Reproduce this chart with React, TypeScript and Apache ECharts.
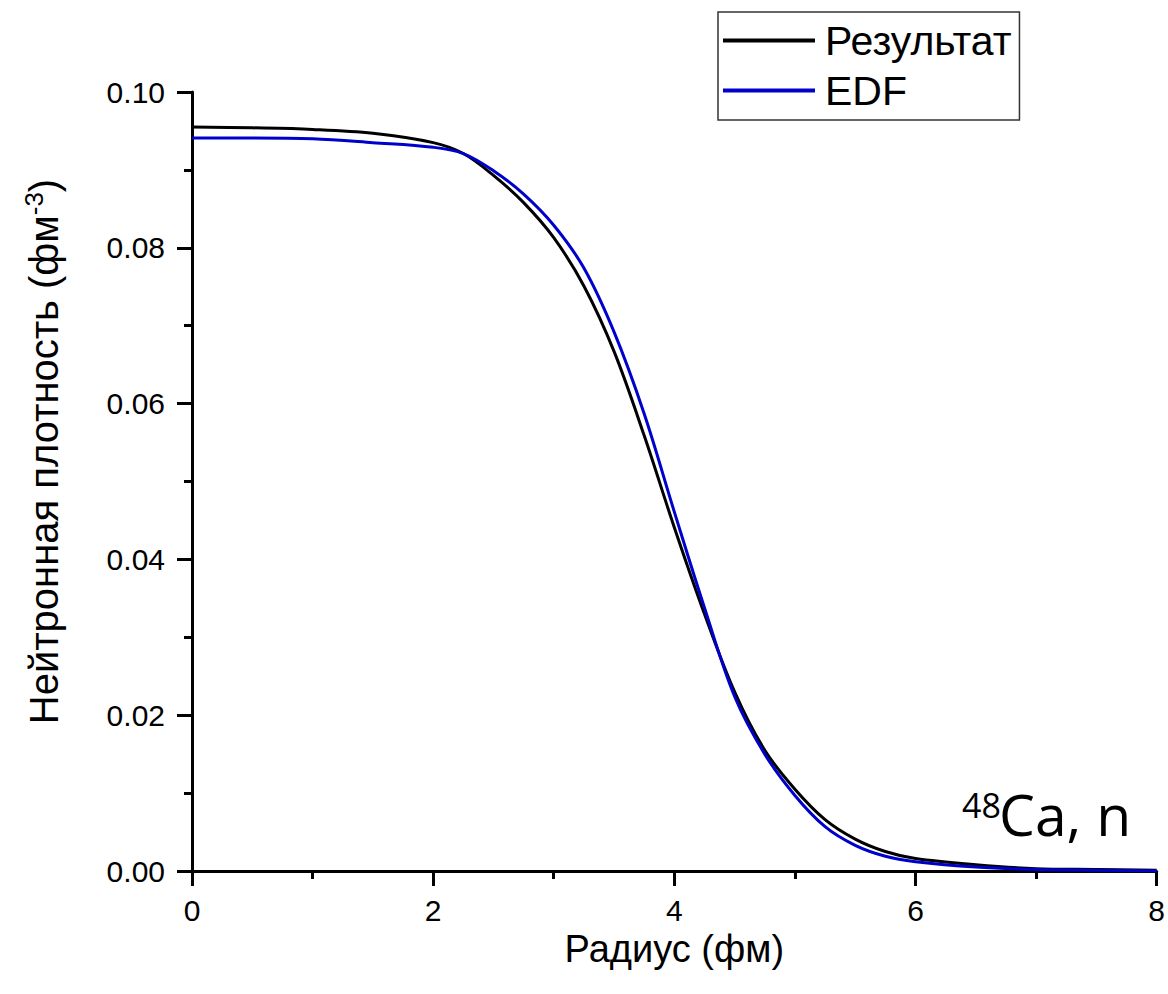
import React, { useEffect, useRef } from "react";
import * as echarts from "echarts";

// Radius grid (fm)
const radius = [0, 0.5, 1, 1.5, 2, 2.25, 2.5, 2.75, 3, 3.25, 3.5, 3.75, 4, 4.25, 4.5, 4.75, 5, 5.25, 5.5, 5.75, 6, 6.5, 7, 7.5, 8];

// Neutron density, fm^-3
const resultDensity = [0.0955, 0.0954, 0.0952, 0.0947, 0.0935, 0.0921, 0.0893, 0.0858, 0.0813, 0.0751, 0.0667, 0.0559, 0.0441, 0.033, 0.023, 0.0155, 0.0105, 0.0066, 0.0041, 0.0025, 0.0016, 0.0008, 0.0003, 0.0002, 0.0001];
const edfDensity = [0.0941, 0.0941, 0.094, 0.0935, 0.0929, 0.0921, 0.0899, 0.0869, 0.0829, 0.0774, 0.0692, 0.0587, 0.0461, 0.0338, 0.0224, 0.015, 0.0097, 0.0057, 0.0033, 0.0019, 0.0012, 0.0005, 0.0002, 0.0001, 0.0];

const seriesNames = ["Результат", "EDF"];
const seriesColors = ["#000000", "#0000cc"];
const xTitle = "Радиус (фм)";
const yTitle = "Нейтронная плотность (фм{sup|-3})";
const nucleusMass = "48";
const nucleusLabel = "Ca, n";

const FONT = "'Liberation Sans', Arial, sans-serif";

export default function App() {
  const ref = useRef<HTMLDivElement>(null);

  useEffect(() => {
    if (!ref.current) return;
    const chart = echarts.init(ref.current, undefined, { renderer: "svg" });

    const pair = (ys: number[]) => radius.map((r, i) => [r, ys[i]]);

    const axisCommon = {
      axisLine: { show: true, lineStyle: { color: "#000", width: 3 } },
      axisTick: { show: true, inside: false, length: 15, lineStyle: { color: "#000", width: 3 } },
      minorTick: { show: true, splitNumber: 2, length: 8, lineStyle: { color: "#000", width: 3 } },
      splitLine: { show: false },
      minorSplitLine: { show: false },
    };

    chart.setOption({
      animation: false,
      backgroundColor: "#fff",
      grid: { left: 192, right: 10, top: 92, bottom: 123 },
      legend: {
        orient: "vertical",
        left: 718,
        top: 12,
        padding: [8, 8, 9, 5],
        itemGap: 9,
        itemWidth: 92,
        itemHeight: 4,
        icon: "rect",
        borderColor: "#333",
        borderWidth: 1.5,
        borderRadius: 0,
        data: seriesNames,
        textStyle: {
          fontFamily: FONT,
          fontSize: 41,
          color: "#000",
          lineHeight: 40,
          padding: [0, 0, 0, 5],
        },
      },
      xAxis: {
        type: "value",
        min: 0,
        max: 8,
        interval: 2,
        ...axisCommon,
        axisLabel: { fontFamily: FONT, fontSize: 30, color: "#000", margin: 24 },
        name: xTitle,
        nameLocation: "middle",
        nameGap: 51,
        nameTextStyle: { fontFamily: FONT, fontSize: 38, color: "#000" },
      },
      yAxis: {
        type: "value",
        min: 0,
        max: 0.1,
        interval: 0.02,
        ...axisCommon,
        axisLabel: {
          fontFamily: FONT,
          fontSize: 30,
          color: "#000",
          margin: 27,
          formatter: (v: number) => v.toFixed(2),
        },
        name: yTitle,
        nameLocation: "middle",
        nameGap: 125,
        nameTextStyle: {
          fontFamily: FONT,
          fontSize: 40,
          color: "#000",
          padding: [0, 0, 0, 60],
          rich: {
            sup: { fontFamily: FONT, fontSize: 26, color: "#000", verticalAlign: "top", lineHeight: 46 },
          },
        },
      },
      series: seriesNames.map((name, i) => ({
        name,
        type: "line",
        data: pair(i === 0 ? resultDensity : edfDensity),
        showSymbol: false,
        symbol: "none",
        smooth: 0.35,
        lineStyle: { color: seriesColors[i], width: 3 },
        itemStyle: { color: seriesColors[i] },
        z: 2 + i,
      })),
      graphic: [
        {
          type: "text",
          left: 962,
          top: 788,
          style: { text: nucleusMass, font: "34px 'Open Sans', sans-serif", fill: "#000" },
        },
        {
          type: "text",
          left: 999,
          top: 785,
          style: { text: nucleusLabel, font: "57px 'Open Sans', sans-serif", fill: "#000" },
        },
      ],
    });

    return () => chart.dispose();
  }, []);

  return (
    <div
      ref={ref}
      style={{ position: "absolute", left: 0, top: 0, width: 1168, height: 994 }}
    />
  );
}
